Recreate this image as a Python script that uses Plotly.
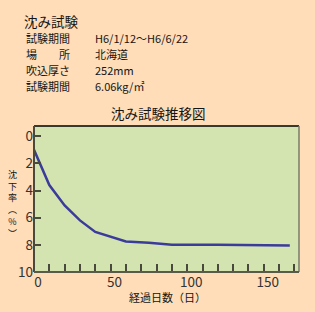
import plotly.graph_objects as go

days = [0, 10, 20, 30, 40, 50, 60, 75, 90, 120, 160, 167]
sink = [1.0, 3.6, 5.1, 6.2, 7.05, 7.4, 7.75, 7.85, 8.0, 8.0, 8.0, 8.05]

info_labels = ["試験期間", "場　　所", "吹込厚さ", "試験期間"]
info_values = ["H6/1/12〜H6/6/22", "北海道", "252mm", "6.06kg/㎡"]
x_ticks = [0, 50, 100, 150]
y_ticks = [0, 2, 4, 6, 8, 10]

FONT = "Noto Sans CJK JP"
BG = "#FFDDB8"
PLOT_BG = "#D3E4B1"
TXT = "#151515"

W, H = 315, 312
L, R, T, B = 34, 16, 126, 40
pw, ph = W - L - R, H - T - B

def px(x):
    return (x - L) / pw

def py(y):
    return (H - B - y) / ph

fig = go.Figure()
fig.add_trace(go.Scatter(x=days, y=sink, mode="lines",
                         line=dict(color="#3B3B9C", width=2.5), hoverinfo="skip"))

ann = []
ann.append(dict(text="沈み試験", x=px(22), y=py(21), xanchor="left", yanchor="middle",
                font=dict(size=13.5, color=TXT)))
rows_y = [38.5, 54.5, 70.5, 86.5]
for lab, val, yy in zip(info_labels, info_values, rows_y):
    ann.append(dict(text=lab, x=px(24), y=py(yy), xanchor="left", yanchor="middle",
                    font=dict(size=11, color=TXT)))
    ann.append(dict(text=val, x=px(93), y=py(yy), xanchor="left", yanchor="middle",
                    font=dict(size=11, color=TXT)))
ann.append(dict(text="沈み試験推移図", x=px(158.5), y=py(113), xanchor="center", yanchor="middle",
                font=dict(size=13.5, color=TXT)))
ann.append(dict(text="経過日数（日）", x=px(167), y=py(297), xanchor="center", yanchor="middle",
                font=dict(size=11, color=TXT)))
ann.append(dict(text="沈<br>下<br>率<br>︵<br>%<br>︶", x=px(12), y=py(204), xanchor="center",
                yanchor="middle", font=dict(size=9, color=TXT)))
for a in ann:
    a.update(xref="paper", yref="paper", showarrow=False)

shapes = [
    dict(type="line", xref="paper", yref="paper", x0=0, x1=1, y0=1, y1=1, line=dict(color="#000", width=1.5)),
    dict(type="line", xref="paper", yref="paper", x0=0, x1=0, y0=0, y1=1, line=dict(color="#4A4A3C", width=2)),
    dict(type="line", xref="paper", yref="paper", x0=1, x1=1, y0=0, y1=1, line=dict(color="#7A7A6A", width=1.5)),
    dict(type="line", xref="paper", yref="paper", x0=0, x1=1, y0=0, y1=0, line=dict(color="#5A5A48", width=2)),
]

fig.update_layout(
    width=W, height=H, margin=dict(l=L, r=R, t=T, b=B),
    paper_bgcolor=BG, plot_bgcolor=PLOT_BG, showlegend=False,
    font=dict(family=FONT, size=13, color=TXT),
    annotations=ann, shapes=shapes,
    xaxis=dict(range=[0, 173], tickvals=x_ticks, ticks="inside", ticklen=8, tickwidth=1.5,
               tickcolor="#4A4A3C", showgrid=False, zeroline=False, showline=False,
               ticklabelshift=4,
               minor=dict(dtick=10, tick0=0, ticks="inside", ticklen=8, tickwidth=1.5, tickcolor="#4A4A3C"),
               tickfont=dict(size=13.5, color="#333")),
    yaxis=dict(range=[10, -0.75], tickvals=y_ticks, ticks="inside", ticklen=7, tickwidth=1.5,
               tickcolor="#4A4A3C", showgrid=False, zeroline=False, showline=False,
               tickfont=dict(size=13.5, color="#333")),
)
fig.write_html("out.html")
